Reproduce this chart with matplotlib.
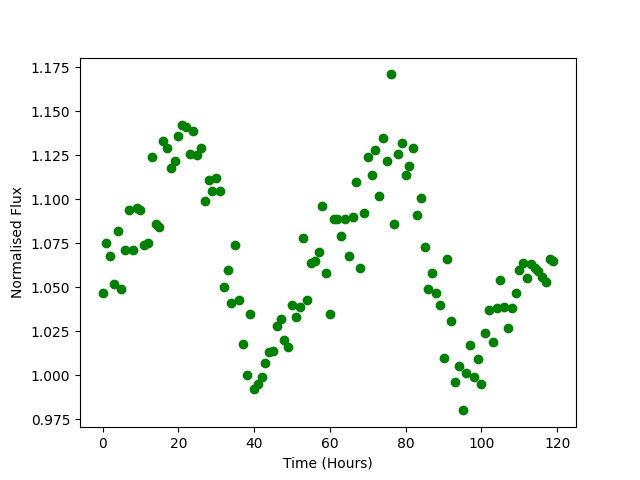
import numpy as np
import matplotlib
matplotlib.use('Agg')
import matplotlib.pyplot as plt


time_hours = np.arange(0, 120)

flux = np.array([
    1.047, 1.075, 1.068, 1.052, 1.082, 1.049, 1.071, 1.094, 1.071, 1.095,   # 0-9
    1.094, 1.074, 1.075, 1.124, 1.086, 1.084, 1.133, 1.129, 1.118, 1.122,   # 10-19
    1.136, 1.142, 1.141, 1.126, 1.139, 1.125, 1.129, 1.099, 1.111, 1.105,   # 20-29
    1.112, 1.105, 1.050, 1.060, 1.041, 1.074, 1.043, 1.018, 1.000, 1.035,   # 30-39
    0.992, 0.995, 0.999, 1.007, 1.013, 1.014, 1.028, 1.032, 1.020, 1.016,   # 40-49
    1.040, 1.033, 1.039, 1.078, 1.043, 1.064, 1.065, 1.070, 1.096, 1.058,   # 50-59
    1.035, 1.089, 1.089, 1.079, 1.089, 1.068, 1.090, 1.110, 1.061, 1.092,   # 60-69
    1.124, 1.114, 1.128, 1.102, 1.135, 1.122, 1.171, 1.086, 1.126, 1.132,   # 70-79
    1.114, 1.119, 1.129, 1.091, 1.101, 1.073, 1.049, 1.058, 1.047, 1.040,   # 80-89
    1.010, 1.066, 1.031, 0.996, 1.005, 0.980, 1.001, 1.017, 0.999, 1.009,   # 90-99
    0.995, 1.024, 1.037, 1.019, 1.038, 1.054, 1.039, 1.027, 1.038, 1.047,   # 100-109
    1.060, 1.064, 1.055, 1.063, 1.061, 1.059, 1.056, 1.053, 1.066, 1.065,   # 110-119
])

plt.figure(figsize=(6.4, 4.8), dpi=100)
plt.plot(time_hours, flux, 'go')
plt.xlabel('Time (Hours)')
plt.ylabel('Normalised Flux')

plt.savefig('out.png')
